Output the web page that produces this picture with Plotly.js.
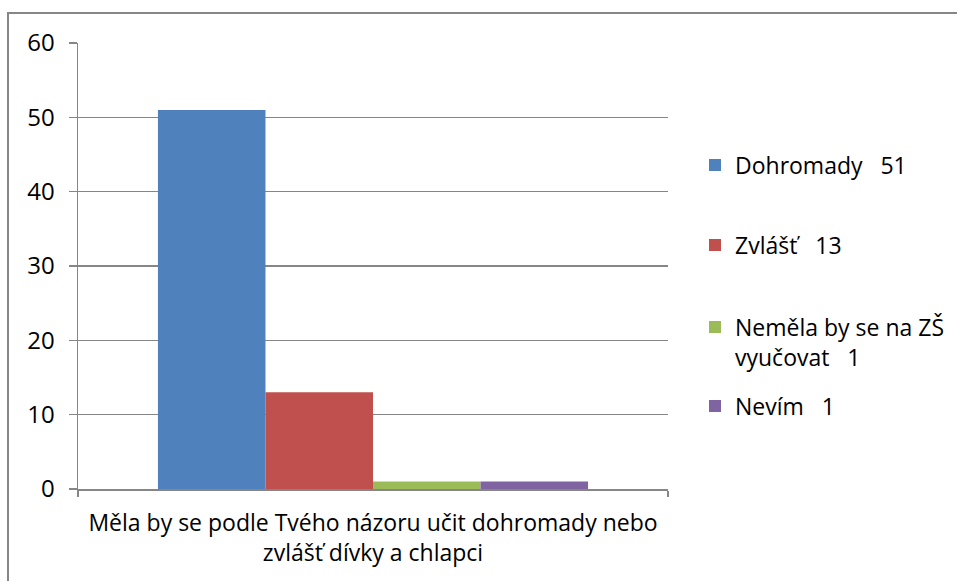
<!DOCTYPE html>
<html>
<head>
<meta charset="utf-8">
<script src="https://cdn.plot.ly/plotly-3.0.1.min.js"></script>
<style>
  html, body { margin: 0; padding: 0; background: #fff; }
  #plot { width: 957px; height: 581px; }
</style>
</head>
<body>
<div id="plot"></div>
<script>
// category and series
const category = ['Měla by se podle Tvého názoru učit dohromady nebo<br>zvlášť dívky a chlapci'];
const seriesNames = ['Dohromady\u00a0\u00a0\u00a051', 'Zvlášť\u00a0\u00a0\u00a013', 'Neměla by se na ZŠ<br>vyučovat\u00a0\u00a0\u00a01', 'Nevím\u00a0\u00a0\u00a01'];
const seriesValues = [51, 13, 1, 1];
const colors = ['#4F81BD', '#C0504D', '#9BBB59', '#8064A2'];
const yTicks = [0, 10, 20, 30, 40, 50, 60];

const FONT = '"Open Sans", Lato, sans-serif';
const grey = '#868686';

// legend item vertical positions (px from top), converted to paper coords
const legendY = [165, 245, 342, 406];
const plotTop = 43, plotBottom = 489;

let data = [];
let layout = {
    width: 957,
    height: 581,
    margin: {l: 78, r: 289, t: 43, b: 92, autoexpand: false},
    paper_bgcolor: '#fff',
    plot_bgcolor: '#fff',
    font: {family: FONT, size: 23, color: '#000'},
    barmode: 'group',
    bargap: 0.271,
    bargroupgap: 0,
    xaxis: {
        type: 'category',
        showgrid: false,
        showline: true,
        linecolor: grey,
        linewidth: 1.5,
        ticks: 'outside',
        tickson: 'boundaries',
        ticklen: 6,
        tickcolor: grey,
        tickwidth: 1.5,
        ticklabelstandoff: 13,
        tickfont: {family: FONT, size: 23},
        fixedrange: true
    },
    yaxis: {
        range: [0, 60],
        tickvals: yTicks,
        showgrid: true,
        gridcolor: grey,
        gridwidth: 1.5,
        zeroline: false,
        showline: true,
        linecolor: grey,
        linewidth: 1.5,
        ticks: 'outside',
        ticklen: 8,
        tickcolor: grey,
        tickwidth: 1.5,
        ticklabelstandoff: 9,
        tickfont: {family: FONT, size: 24},
        fixedrange: true
    },
    shapes: [{
        type: 'rect', xref: 'paper', yref: 'paper',
        x0: (8 - 78) / 590, x1: 1.7,
        y0: -0.4, y1: (plotBottom - 13) / (plotBottom - plotTop),
        line: {color: grey, width: 2}
    }],
    showlegend: true
};

for (let i = 0; i < seriesValues.length; i++) {
    const legName = i === 0 ? 'legend' : 'legend' + (i + 1);
    data.push({
        type: 'bar',
        x: category,
        y: [seriesValues[i]],
        name: seriesNames[i],
        marker: {color: colors[i]},
        legend: legName,
        hoverinfo: 'none'
    });
    layout[legName] = {
        x: (695 - 78) / 590,
        xanchor: 'left',
        y: (plotBottom - legendY[i]) / (plotBottom - plotTop),
        yanchor: 'middle',
        valign: 'top',
        bgcolor: 'rgba(0,0,0,0)',
        font: {family: FONT, size: 23, color: '#000'},
        itemclick: false,
        itemdoubleclick: false
    };
}

Plotly.newPlot('plot', data, layout, {displayModeBar: false, staticPlot: true});
</script>
</body>
</html>
